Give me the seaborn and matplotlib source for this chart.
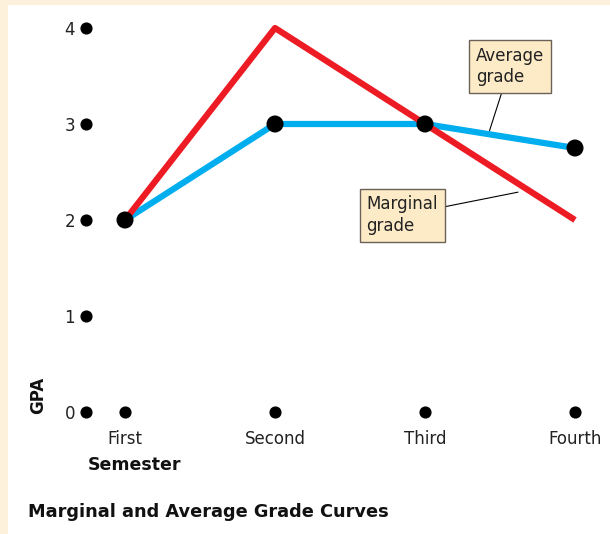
import matplotlib
matplotlib.use("Agg")
import matplotlib.pyplot as plt
from matplotlib.patches import Rectangle
import seaborn as sns
import pandas as pd

semesters = ["First", "Second", "Third", "Fourth"]
marginal = [2, 4, 3, 2]
average = [2, 3, 3, 2.75]
gpa_ticks = [0, 1, 2, 3, 4]

RED = "#ED1C24"
BLUE = "#00AEEF"
CREAM = "#FEF1DC"
BOX = "#FDEBC8"

sns.set_style("white")
plt.rcParams['font.family'] = ['DejaVu Sans']

df = pd.DataFrame({"pos": range(len(semesters)), "semester": semesters,
                   "marginal": marginal, "average": average})

W, H = 610, 534
fig = plt.figure(figsize=(W / 100, H / 100), dpi=100, facecolor=CREAM)
fig.patches.append(Rectangle((8 / W, 0), 1, 1 - 5 / H, transform=fig.transFigure,
                             facecolor="white", edgecolor="none", zorder=-10))

# axes: left edge at the y-axis dots, bottom at GPA 0
left_px, right_px, bottom_px, top_px = 86, 600, 412, 15
ax = fig.add_axes([left_px / W, 1 - bottom_px / H,
                   (right_px - left_px) / W, (bottom_px - top_px) / H])
ax.set_facecolor("none")
ax.set_xlim((left_px - 125) / 150, (right_px - 125) / 150)
ax.set_ylim(0, (bottom_px - top_px) / 96)

sns.lineplot(data=df, x="pos", y="average", color=BLUE, linewidth=4.5, ax=ax,
             solid_capstyle="butt", zorder=2)
sns.lineplot(data=df, x="pos", y="marginal", color=RED, linewidth=4.5, ax=ax,
             solid_capstyle="butt", zorder=3)
sns.scatterplot(data=df, x="pos", y="average", color="black", s=150, ax=ax,
                edgecolor="none", zorder=4)

# dots as ticks
x0 = ax.get_xlim()[0]
ax.scatter([x0] * len(gpa_ticks), gpa_ticks, s=60, color="black", clip_on=False, zorder=5)
ax.scatter(df["pos"], [0] * len(semesters), s=60, color="black", clip_on=False, zorder=5)

for s in ax.spines.values():
    s.set_visible(False)
ax.set_xticks(df["pos"])
ax.set_xticklabels(semesters)
ax.set_yticks(gpa_ticks)
ax.tick_params(axis="both", length=0, labelsize=12, colors="#222222")
ax.tick_params(axis="x", pad=13)
ax.tick_params(axis="y", pad=8)
ax.set_xlabel("")
ax.set_ylabel("")

box = dict(boxstyle="square,pad=0.4", facecolor=BOX, edgecolor="#6b6257", linewidth=1)
ax.annotate("Average\ngrade", xy=(2.43, 2.93), xytext=(2.34, 3.6), fontsize=12,
            ha="left", va="center", linespacing=1.25, bbox=box, color="#222222",
            arrowprops=dict(arrowstyle="-", color="black", lw=0.8, shrinkA=0, shrinkB=0))
ax.annotate("Marginal\ngrade", xy=(2.62, 2.29), xytext=(1.61, 2.05), fontsize=12,
            ha="left", va="center", linespacing=1.25, bbox=box, color="#222222",
            arrowprops=dict(arrowstyle="-", color="black", lw=0.8, shrinkA=0, shrinkB=0))

fig.text(38 / W, 1 - 395 / H, "GPA", rotation=90, fontsize=12, fontweight="bold",
         ha="center", va="center", color="#111111")
fig.text(88 / W, 1 - 465 / H, "Semester", fontsize=12.5, fontweight="bold",
         ha="left", va="center", color="#111111")
fig.text(28 / W, 1 - 512 / H, "Marginal and Average Grade Curves", fontsize=12.8,
         fontweight="bold", ha="left", va="center", color="#111111")

fig.savefig("out.png", dpi=100, facecolor=CREAM)
